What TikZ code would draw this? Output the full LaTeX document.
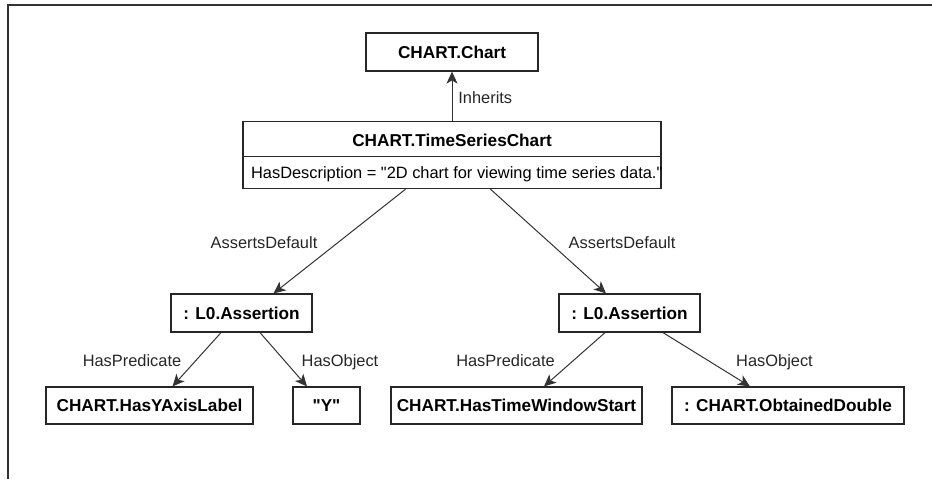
\documentclass[tikz,border=0pt]{standalone}
\usepackage{fontspec}
\setmainfont{Liberation Sans}[Ligatures=TeXOff]
\usetikzlibrary{arrows.meta,calc}
\begin{document}
\begin{tikzpicture}[x=0.5pt,y=-0.5pt,
  box/.style={draw=black!85, line width=0.6pt, fill=white, inner sep=0pt,
    minimum height=19pt, font=\fontsize{8.6}{10}\selectfont\bfseries},
  boxtext/.style={inner sep=0pt, font=\fontsize{8.6}{10}\selectfont\bfseries},
  desc/.style={inner sep=0pt, font=\fontsize{8.2}{10}\selectfont},
  lbl/.style={inner sep=0pt, anchor=base, font=\fontsize{8.2}{10}\selectfont, text=black!85},
  conn/.style={draw=black!80, line width=0.5pt,
    -{Stealth[length=6pt,width=5.5pt,inset=1.6pt]}},
]
\useasboundingbox (0,0) rectangle (932,479);
% outer frame
\draw[black!80, line width=0.7pt] (8,479) -- (8,5) -- (932,5);

% class boxes
\node[box, minimum width=86pt] (chart) at (452,52) {CHART.Chart};
\node[box, minimum width=209pt, minimum height=33.5pt] (tsc) at (452,155.1) {};
\coordinate (divy) at (0,156.7);
\draw[black!85, line width=0.6pt] (tsc.west |- divy) -- (tsc.east |- divy);
\node[boxtext] (tsctitle) at (452,140) {CHART.TimeSeriesChart};
\begin{scope}
  \clip (tsc.south west) rectangle (tsc.north east);
  \node[desc, anchor=base west] (tscdesc) at (250.7,178.4)
    {HasDescription = "2D chart for viewing time series data."};
\end{scope}

% assertions
\node[box, minimum width=70.5pt] (la) at (241.5,313) {: L0.Assertion};
\node[box, minimum width=70.5pt] (ra) at (629.5,313) {: L0.Assertion};

% leaves
\node[box, minimum width=103.5pt, minimum height=18.5pt] (b1) at (149.5,405.5) {CHART.HasYAxisLabel};
\node[box, minimum width=33.5pt, minimum height=18.5pt] (b2) at (326.5,405.5) {"Y"};
\node[box, minimum width=125.5pt, minimum height=18.5pt] (b3) at (516.5,405.5) {CHART.HasTimeWindowStart};
\node[box, minimum width=116pt, minimum height=18.5pt] (b4) at (788,405.5) {: CHART.ObtainedDouble};

% connectors
\draw[conn] (tsc.north) -- (chart.south);
\draw[conn] ($(tsc.south)+(-46.5,0)$) -- ($(la.north)+(32,0)$);
\draw[conn] ($(tsc.south)+(38.5,0)$) -- ($(ra.north)+(-23.5,0)$);
\draw[conn] ($(la.south)+(-20.5,0)$) -- ($(b1.north)+(23,0)$);
\draw[conn] ($(la.south)+(18.5,0)$) -- ($(b2.north)+(-19.5,0)$);
\draw[conn] ($(ra.south)+(-24.5,0)$) -- ($(b3.north)+(27.5,0)$);
\draw[conn] ($(ra.south)+(33.5,0)$) -- ($(b4.north)+(-38,0)$);

% connector labels
\node[lbl, anchor=base west] (linh) at (458,103) {Inherits};
\node[lbl] (lad1) at (264,248.5) {AssertsDefault};
\node[lbl] (lad2) at (622,248.5) {AssertsDefault};
\node[lbl] (lp1) at (132,366.5) {HasPredicate};
\node[lbl] (lo1) at (340,366.5) {HasObject};
\node[lbl] (lp2) at (505.5,366.5) {HasPredicate};
\node[lbl] (lo2) at (774.5,366.5) {HasObject};
\end{tikzpicture}
\end{document}
